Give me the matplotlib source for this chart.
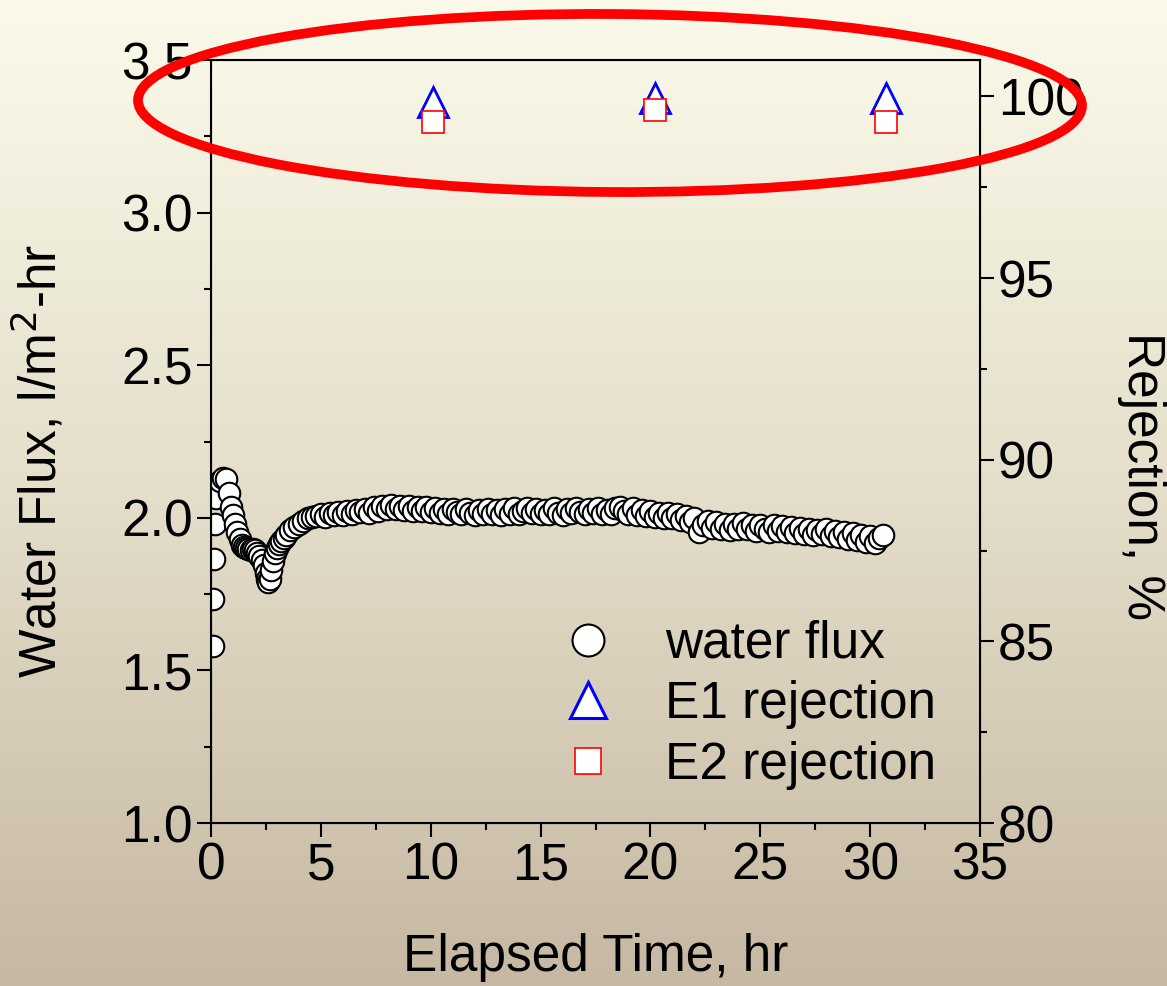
import numpy as np
import matplotlib
matplotlib.use("Agg")
from matplotlib import pyplot as plt
from matplotlib.patches import Ellipse
from matplotlib.lines import Line2D
from matplotlib.ticker import MultipleLocator, FormatStrFormatter
from matplotlib.colors import LinearSegmentedColormap

plt.rcParams['font.family'] = ['Liberation Sans', 'DejaVu Sans']

# start-up readings (irregular timing)
t_early = [0.08, 0.10, 0.13, 0.16, 0.25, 0.40, 0.55, 0.70, 0.80, 0.90,
           1.00, 1.10, 1.20, 1.30, 1.40, 1.50, 1.60, 1.70, 1.80, 1.90,
           2.00, 2.10, 2.20, 2.30, 2.40, 2.50, 2.55, 2.60, 2.70, 2.75,
           2.80, 2.90, 3.00, 3.10, 3.20, 3.30, 3.40, 3.60, 3.80, 4.00,
           4.20, 4.40, 4.60]
flux_early = [1.580, 1.735, 1.865, 1.980, 2.066, 2.122, 2.130, 2.128, 2.080, 2.035,
              2.010, 1.980, 1.955, 1.930, 1.912, 1.905, 1.900, 1.898, 1.895, 1.897,
              1.893, 1.885, 1.875, 1.862, 1.845, 1.820, 1.800, 1.790, 1.800, 1.830,
              1.860, 1.885, 1.900, 1.915, 1.925, 1.935, 1.944, 1.960, 1.970, 1.980,
              1.990, 1.998, 2.003]

# steady logging, one reading every 0.2 hr from 4.8 to 30.6 hr
t_late = np.round(np.arange(4.8, 30.61, 0.2), 2)
flux_late = [2.007, 2.014, 2.002, 2.016, 2.008, 2.020, 2.010, 2.024, 2.014, 2.027,
             2.018, 2.030, 2.016, 2.034, 2.024, 2.040, 2.028, 2.042, 2.030, 2.040,
             2.026, 2.038, 2.024, 2.036, 2.022, 2.034, 2.018, 2.032, 2.016, 2.028,
             2.014, 2.030, 2.020, 2.012, 2.030, 2.016, 2.010, 2.027, 2.014, 2.028,
             2.012, 2.025, 2.008, 2.028, 2.014, 2.031, 2.012, 2.024, 2.033, 2.016,
             2.029, 2.012, 2.027, 2.014, 2.031, 2.017, 2.010, 2.029, 2.016, 2.033,
             2.019, 2.012, 2.029, 2.016, 2.033, 2.014, 2.027, 2.012, 2.031, 2.035,
             2.021, 2.014, 2.031, 2.010, 2.025, 2.006, 2.021, 2.002, 2.017, 2.000,
             2.015, 1.998, 2.011, 1.992, 2.007, 1.986, 2.001, 1.955, 1.978, 1.988,
             1.966, 1.985, 1.964, 1.981, 1.960, 1.979, 1.964, 1.983, 1.962, 1.977,
             1.958, 1.978, 1.962, 1.954, 1.975, 1.958, 1.973, 1.954, 1.971, 1.951,
             1.968, 1.948, 1.965, 1.944, 1.961, 1.946, 1.963, 1.940, 1.957, 1.936,
             1.953, 1.932, 1.949, 1.926, 1.945, 1.922, 1.941, 1.916, 1.933, 1.944]

t_rej = [10.1, 20.2, 30.7]
e1_rej = [99.84, 99.95, 99.95]
e2_rej = [99.30, 99.62, 99.30]

time = np.concatenate([t_early, t_late])
flux = np.concatenate([flux_early, flux_late])

FS = 37

fig = plt.figure(figsize=(11.67, 9.86), dpi=100)

# background gradient
bg = fig.add_axes([0, 0, 1, 1], zorder=-10)
cmap = LinearSegmentedColormap.from_list("bg", ["#FBFAEA", "#E4DECA", "#C6B8A2"])
bg.imshow(np.linspace(0, 1, 256).reshape(-1, 1), aspect='auto', cmap=cmap,
          extent=[0, 1, 0, 1], origin='upper')
bg.axis('off')

ax = fig.add_axes([0.1808, 0.1653, 0.659, 0.7738])
ax.patch.set_alpha(0)
ax.plot(time, flux, linestyle='none', marker='o', markersize=15.5,
        markerfacecolor='white', markeredgecolor='black', markeredgewidth=1.5)
ax.set_xlim(0, 35)
ax.set_ylim(1.0, 3.5)
ax.xaxis.set_major_locator(MultipleLocator(5))
ax.xaxis.set_minor_locator(MultipleLocator(2.5))
ax.yaxis.set_major_locator(MultipleLocator(0.5))
ax.yaxis.set_minor_locator(MultipleLocator(0.25))
ax.yaxis.set_major_formatter(FormatStrFormatter('%.1f'))
ax.tick_params(which='major', direction='out', length=10, width=1.5, labelsize=FS, pad=3)
ax.tick_params(which='minor', direction='out', length=5, width=1.5)
ax.tick_params(top=False, right=False, which='both')
for s in ax.spines.values():
    s.set_linewidth(1.5)
ax.set_xlabel("Elapsed Time, hr", fontsize=FS, labelpad=31)
ax.set_ylabel("Water Flux, l/m$^2$-hr", fontsize=FS)
ax.yaxis.set_label_coords(-0.186, 0.475)

ax2 = ax.twinx()
ax2.plot(t_rej, e1_rej, linestyle='none', marker='^', markersize=21,
         markerfacecolor='white', markeredgecolor='blue', markeredgewidth=2)
ax2.plot(t_rej, e2_rej, linestyle='none', marker='s', markersize=15.5,
         markerfacecolor='white', markeredgecolor='red', markeredgewidth=1.2)
ax2.set_ylim(80, 101)
ax2.yaxis.set_major_locator(MultipleLocator(5))
ax2.yaxis.set_minor_locator(MultipleLocator(2.5))
ax2.tick_params(which='major', direction='out', length=10, width=1.5, labelsize=FS, pad=3)
ax2.tick_params(which='minor', direction='out', length=5, width=1.5)
ax2.set_ylabel("Rejection, %", fontsize=FS, rotation=270, va='bottom')
ax2.yaxis.set_label_coords(1.178, 0.455)

handles = [
    Line2D([], [], linestyle='none', marker='o', markersize=23, markerfacecolor='white',
           markeredgecolor='black', markeredgewidth=1.5),
    Line2D([], [], linestyle='none', marker='^', markersize=26, markerfacecolor='white',
           markeredgecolor='blue', markeredgewidth=2.2),
    Line2D([], [], linestyle='none', marker='s', markersize=19, markerfacecolor='white',
           markeredgecolor='red', markeredgewidth=1.2),
]
ax2.legend(handles, ["water flux", "E1 rejection", "E2 rejection"], loc='upper left',
           bbox_to_anchor=(542 / 1167, 1 - 620 / 986), bbox_transform=fig.transFigure,
           frameon=False, fontsize=FS, handletextpad=0.6, labelspacing=0.22,
           borderaxespad=0, borderpad=0, handlelength=1.8)

# red highlight ellipse around the rejection data
ell = Ellipse((610 / 1167, 1 - 103 / 986), 944 / 1167, 178 / 986, angle=-0.4,
              transform=fig.transFigure, fill=False, edgecolor='#FF0000', linewidth=7,
              zorder=20)
fig.patches.append(ell)

plt.savefig("out.png", dpi=100)
plt.close()
